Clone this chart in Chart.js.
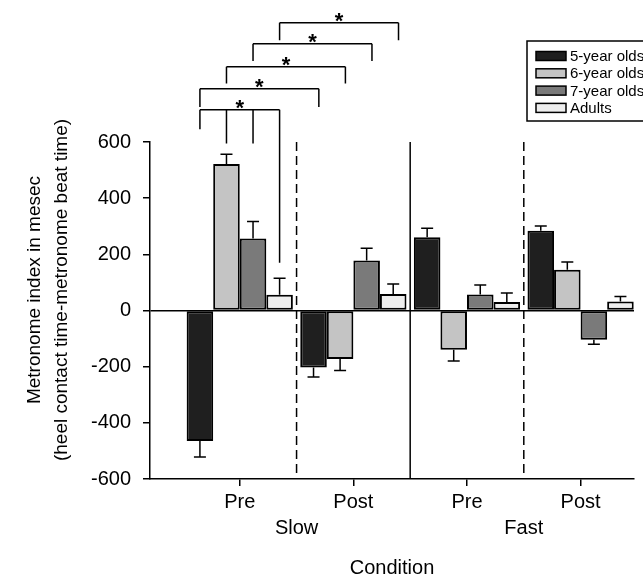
<!DOCTYPE html>
<html>
<head>
<meta charset="utf-8">
<script src="https://cdn.jsdelivr.net/npm/chart.js@4.4.1/dist/chart.umd.min.js"></script>
<style>
html,body{margin:0;padding:0;background:#fff;}
#c{display:block;}
</style>
</head>
<body>
<canvas id="c" width="643" height="581"></canvas>
<script>
// ---- data ----
const phases = ['Pre', 'Post', 'Pre', 'Post'];
const speeds = ['Slow', 'Fast'];
const seriesNames = ['5-year olds', '6-year olds', '7-year olds', 'Adults'];
const age5 = [-465, -203, 261, 284];
const age6 = [522, -173, -140, 145];
const age7 = [256, 178, 57, -104];
const adults = [56, 59, 30, 32];
const err5 = [57, 34, 32, 17];
const err6 = [34, 41, 40, 28];
const err7 = [61, 44, 34, 16];
const errAdults = [59, 35, 32, 18];
const yTickValues = [-600, -400, -200, 0, 200, 400, 600];
const yTitle = ['Metronome index in mesec', '(heel contact time-metronome beat time)'];
const xTitle = 'Condition';
// significance brackets: horizontal level (y units), legs = [series, group, leg bottom (y units)]
const sigBrackets = [
  { level: 715, legs: [[0, 0, 645], [1, 0, 595], [2, 0, 595], [3, 0, 170]] },
  { level: 790, legs: [[0, 0, 725], [0, 1, 725]] },
  { level: 868, legs: [[1, 0, 808], [1, 1, 808]] },
  { level: 950, legs: [[2, 0, 888], [2, 1, 888]] },
  { level: 1025, legs: [[3, 0, 962], [3, 1, 962]] }
];

const values = [age5, age6, age7, adults];
const errors = [err5, err6, err7, errAdults];
const fills = ['#1f1f1f', '#c4c4c4', '#7a7a7a', '#eeeeee'];
const FONT = "'Liberation Sans', Arial, Helvetica, sans-serif";
Chart.defaults.font.family = FONT;
Chart.defaults.color = '#000';

const datasets = seriesNames.map((name, i) => ({
  label: name,
  data: values[i].map((v, j) => ({ x: j, y: v })),
  errors: errors[i],
  backgroundColor: fills[i],
  borderColor: '#000',
  borderWidth: 2,
  borderSkipped: false,
  categoryPercentage: 0.935,
  barPercentage: 1.0
}));

const separatorsPlugin = {
  id: 'separators',
  beforeDatasetsDraw(chart) {
    const { ctx, chartArea, scales } = chart;
    const seps = [[0.5, true], [1.5, false], [2.5, true]];
    ctx.save();
    ctx.strokeStyle = '#000';
    ctx.lineWidth = 1.5;
    seps.forEach(([v, dashed]) => {
      const x = scales.x.getPixelForValue(v);
      ctx.setLineDash(dashed ? [9, 5] : []);
      ctx.beginPath();
      ctx.moveTo(x, chartArea.top);
      ctx.lineTo(x, chartArea.bottom);
      ctx.stroke();
    });
    ctx.restore();
  }
};

const errorBarsPlugin = {
  id: 'errorBars',
  afterDatasetsDraw(chart) {
    const { ctx, scales } = chart;
    ctx.save();
    ctx.strokeStyle = '#000';
    ctx.lineWidth = 1.5;
    chart.data.datasets.forEach((ds, i) => {
      const meta = chart.getDatasetMeta(i);
      meta.data.forEach((el, j) => {
        const v = ds.data[j].y;
        const e = ds.errors[j];
        const end = v + (v >= 0 ? e : -e);
        const y0 = scales.y.getPixelForValue(v);
        const y1 = scales.y.getPixelForValue(end);
        ctx.beginPath();
        ctx.moveTo(el.x, y0);
        ctx.lineTo(el.x, y1);
        ctx.moveTo(el.x - 6, y1);
        ctx.lineTo(el.x + 6, y1);
        ctx.stroke();
      });
    });
    ctx.restore();
  }
};

const annotationsPlugin = {
  id: 'annotations',
  afterDraw(chart) {
    const { ctx, scales } = chart;
    ctx.save();
    ctx.fillStyle = '#000';
    ctx.strokeStyle = '#000';
    // y title (two rotated lines)
    ctx.font = '19px ' + FONT;
    ctx.textAlign = 'center';
    ctx.textBaseline = 'middle';
    yTitle.forEach((t, i) => {
      ctx.save();
      ctx.translate(35 + i * 27, 290);
      ctx.rotate(-Math.PI / 2);
      ctx.fillText(t, 0, 0);
      ctx.restore();
    });
    // speed labels under phase labels
    ctx.font = '20px ' + FONT;
    speeds.forEach((s, k) => {
      const x = (scales.x.getPixelForValue(2 * k) + scales.x.getPixelForValue(2 * k + 1)) / 2;
      ctx.fillText(s, x, 528);
    });
    // significance brackets
    ctx.lineWidth = 1.5;
    sigBrackets.forEach(b => {
      const yl = scales.y.getPixelForValue(b.level);
      const xs = b.legs.map(([s, g, bottom]) => {
        const el = chart.getDatasetMeta(s).data[g];
        const x = el.x + (g > 0 ? el.width * 0.2 : 0);
        return [x, scales.y.getPixelForValue(bottom)];
      });
      ctx.beginPath();
      const minX = Math.min(...xs.map(p => p[0]));
      const maxX = Math.max(...xs.map(p => p[0]));
      ctx.moveTo(minX, yl);
      ctx.lineTo(maxX, yl);
      xs.forEach(([x, yb]) => {
        ctx.moveTo(x, yl);
        ctx.lineTo(x, yb);
      });
      ctx.stroke();
      ctx.font = 'bold 22px ' + FONT;
      ctx.textBaseline = 'alphabetic';
      ctx.fillText('*', (minX + maxX) / 2, yl + 5);
    });
    // legend box
    const lx = chart.width - 116, ly = 41, lw = 130, lh = 80;
    ctx.lineWidth = 1.5;
    ctx.strokeRect(lx, ly, lw, lh);
    ctx.font = '15px ' + FONT;
    ctx.textAlign = 'left';
    ctx.textBaseline = 'middle';
    chart.data.datasets.forEach((ds, i) => {
      const cy = 56 + i * 17.3;
      ctx.fillStyle = ds.backgroundColor;
      ctx.fillRect(lx + 9, cy - 4.5, 30, 9);
      ctx.strokeRect(lx + 9, cy - 4.5, 30, 9);
      ctx.fillStyle = '#000';
      ctx.fillText(ds.label, lx + 43, cy + 1);
    });
    ctx.restore();
  }
};

new Chart(document.getElementById('c'), {
  type: 'bar',
  data: { datasets },
  options: {
    responsive: false,
    animation: false,
    devicePixelRatio: 1,
    layout: { padding: { top: 142, right: 9, left: 0, bottom: 0 } },
    plugins: { legend: { display: false }, tooltip: { enabled: false } },
    scales: {
      x: {
        type: 'linear',
        offset: false,
        min: -0.79,
        max: 3.47,
        afterBuildTicks: s => { s.ticks = phases.map((_, i) => ({ value: i })); },
        afterFit: s => { s.height = 102; },
        ticks: {
          callback: v => phases[v] !== undefined ? phases[v] : '',
          font: { size: 20 },
          color: '#000',
          padding: 4,
          maxRotation: 0,
          autoSkip: false
        },
        grid: { offset: false, drawOnChartArea: false, drawTicks: true, tickLength: 7, tickColor: '#000', lineWidth: 1.5 },
        border: { display: true, color: '#000', width: 1.5 },
        title: { display: true, text: xTitle, font: { size: 20 }, color: '#000', padding: { top: 0, bottom: 1 } }
      },
      y: {
        type: 'linear',
        min: -600,
        max: 600,
        afterBuildTicks: s => { s.ticks = yTickValues.map(v => ({ value: v })); },
        afterFit: s => { s.width = 150; },
        ticks: { font: { size: 20 }, color: '#000', padding: 12 },
        grid: {
          color: c => (c.tick && c.tick.value === 0) ? '#000' : 'rgba(0,0,0,0)',
          lineWidth: 1.5,
          drawTicks: true,
          tickLength: 7,
          tickColor: '#000'
        },
        border: { display: true, color: '#000', width: 1.5 }
      }
    }
  },
  plugins: [separatorsPlugin, errorBarsPlugin, annotationsPlugin]
});
</script>
</body>
</html>
